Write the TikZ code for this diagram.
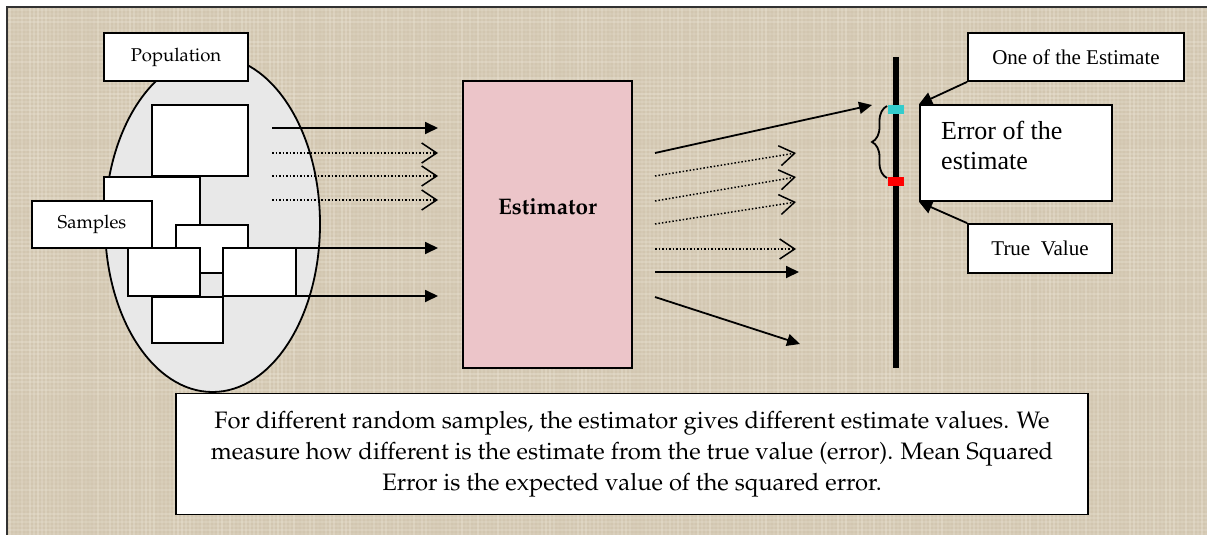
\documentclass[tikz,border=0pt]{standalone}
\usepackage[T1]{fontenc}
\usepackage{fontspec}
\usetikzlibrary{arrows.meta,decorations.pathreplacing}
\newfontfamily\timesf{Liberation Serif}
\newcommand\palf{\fontencoding{T1}\fontfamily{ppl}\selectfont}

\definecolor{canvas}{RGB}{210,198,176}
\definecolor{weave}{RGB}{238,232,218}
\definecolor{framegray}{RGB}{50,50,50}
\definecolor{popgray}{RGB}{232,232,232}
\definecolor{estpink}{RGB}{236,197,201}
\definecolor{markcyan}{RGB}{51,204,204}
\definecolor{markred}{RGB}{255,0,0}

\tikzset{
  wbox/.style={draw=black, fill=white, line width=1.8pt, rectangle, inner sep=0pt},
  solidarr/.style={line width=1.8pt, -{Triangle[length=13pt,width=12pt]}},
  dotarr/.style={line width=1.5pt, dash pattern=on 1.5pt off 2pt,
                 -{Straight Barb[length=15pt,width=20pt,line width=1.5pt]}},
  callout/.style={line width=1.8pt, -{Triangle[length=13pt,width=13pt]}},
}

\begin{document}
\begin{tikzpicture}[x=1pt,y=-1pt]
\useasboundingbox (0,0) rectangle (1207,535);

% canvas with a light woven texture, and its frame
\fill[canvas] (7,7) rectangle (1207,535);
\pgfmathsetseed{7}
\begin{scope}
  \clip (8,8) rectangle (1207,535);
  \foreach \x in {10,14,...,1206}{
    \pgfmathsetmacro\op{0.08+0.30*rnd}
    \draw[weave, opacity=\op, line width=1.2pt] (\x,8) -- (\x,535);
  }
  \foreach \y in {10,14,...,534}{
    \pgfmathsetmacro\op{0.08+0.30*rnd}
    \draw[weave, opacity=\op, line width=1.2pt] (8,\y) -- (1207,\y);
  }
\end{scope}
\draw[framegray, line width=1.5pt] (7,535) -- (7,7) -- (1207,7);

% population
\draw[fill=popgray, line width=1.8pt] (212.5,224) ellipse [x radius=107.5pt, y radius=168pt];
\node[wbox, minimum width=144pt, minimum height=48pt, font=\palf\fontsize{18.5}{22}\selectfont]
  (pop) at (176,57) {Population};

% samples drawn from the population
\draw[wbox] (152,105) rectangle (248,176);
\draw[wbox] (104,177) rectangle (200,248);
\node[wbox, minimum width=120pt, minimum height=47pt, font=\palf\fontsize{18.5}{22}\selectfont]
  (smp) at (92,224.5) {Samples};
\draw[wbox] (176,225) rectangle (248,273);
\draw[wbox] (128,248) rectangle (200,296);
\draw[wbox] (223,248) rectangle (296,296);
\draw[wbox] (152,297) rectangle (223,343);

% estimator
\node[draw, line width=1.8pt, fill=estpink, minimum width=169pt, minimum height=287pt, inner sep=0pt]
  (est) at (547.5,224.5) {};
\node[font=\palf\bfseries\fontsize{22.5}{26}\selectfont] (estlbl) at (547.5,207) {Estimator};

% samples into the estimator
\foreach \yy/\kind [count=\i] in {128/solidarr,153/dotarr,176/dotarr,200/dotarr,248/solidarr,296/solidarr}{
  \coordinate (in\i) at (272,\yy);
  \coordinate (to\i) at (438,\yy);
  \draw[\kind] (in\i) -- (to\i);
}

% estimates out of the estimator
\coordinate (o1) at (655,153); \coordinate (e1) at (872,105);
\coordinate (o2) at (655,176); \coordinate (e2) at (796,153);
\coordinate (o3) at (655,201); \coordinate (e3) at (796,177);
\coordinate (o4) at (655,224); \coordinate (e4) at (796,202);
\coordinate (o5) at (655,249); \coordinate (e5) at (796,249);
\coordinate (o6) at (655,272); \coordinate (e6) at (799,272);
\coordinate (o7) at (655,297); \coordinate (e7) at (800,344);
\draw[solidarr] (o1) -- (e1);
\draw[dotarr] (o2) -- (e2);
\draw[dotarr] (o3) -- (e3);
\draw[dotarr] (o4) -- (e4);
\draw[dotarr] (o5) -- (e5);
\draw[solidarr] (o6) -- (e6);
\draw[solidarr] (o7) -- (e7);

% value axis with the estimate and the true value
\coordinate (axtop) at (896,57);
\coordinate (axbot) at (896,368);
\draw[line width=6pt] (axtop) -- (axbot);
\fill[markcyan] (888,105) rectangle (904,114);
\fill[markred] (888,177) rectangle (904,186);
\draw[line width=1.8pt, decorate, decoration={brace, amplitude=15pt}] (887,178) -- (887,106);

% labels on the right
\node[wbox, minimum width=216pt, minimum height=48pt] (one) at (1076,57)
  {\timesf\fontsize{21}{24}\selectfont One of the Estimate};
\node[wbox, minimum width=192pt, minimum height=96pt] (err) at (1016,153) {};
\node[anchor=north west, align=left, inner sep=0pt, font=\timesf\fontsize{26}{30}\selectfont]
  (errtxt) at (941,121) {Error of the\\estimate};
\node[wbox, minimum width=144pt, minimum height=49pt] (tv) at (1040,248.5)
  {\timesf\fontsize{21}{24}\selectfont True\ \ Value};
\draw[callout] (one.south west) -- (err.north west);
\draw[callout] (tv.north west) -- (err.south west);

% explanation
\node[wbox, minimum width=912pt, minimum height=121pt, align=center,
      font=\palf\fontsize{23.8}{31}\selectfont] (note) at (632,454)
  {For different random samples, the estimator gives different estimate values. We\\
   measure how different is the estimate from the true value (error). Mean Squared\\
   Error is the expected value of the squared error.};
\end{tikzpicture}
\end{document}
